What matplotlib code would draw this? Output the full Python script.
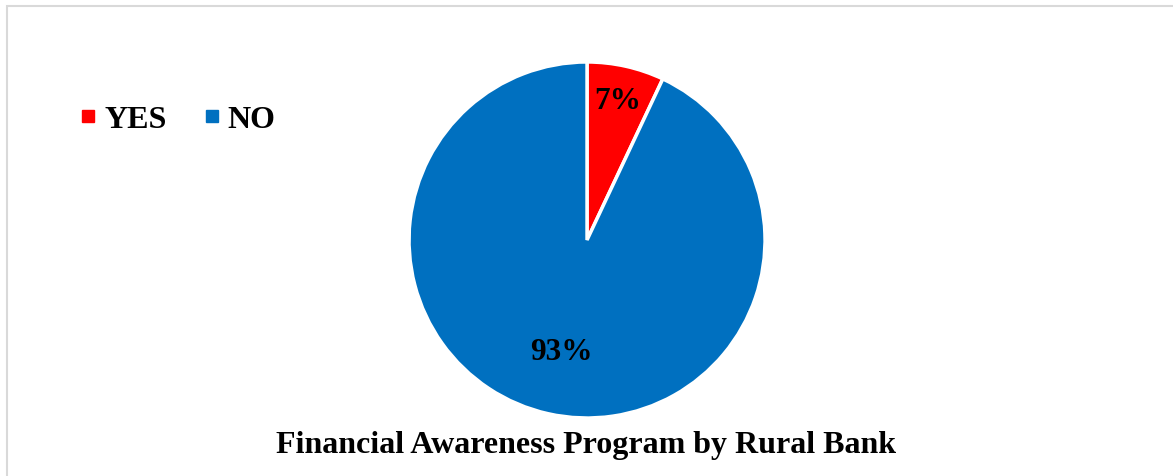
import numpy as np
import matplotlib
matplotlib.use("Agg")
import matplotlib.pyplot as plt
from matplotlib.lines import Line2D
from matplotlib.patches import Rectangle

labels = ["YES", "NO"]
shares = [7, 93]
colors = ["#FF0000", "#0070C0"]
pct_text = ["7%", "93%"]
title = "Financial Awareness Program by Rural Bank"

plt.rcParams['font.family'] = ['Liberation Serif', 'DejaVu Serif']
plt.rcParams['font.weight'] = 'bold'

fig = plt.figure(figsize=(11.73, 4.76), dpi=100)
ax = fig.add_axes([0.3487, 0.1218, 0.3035, 0.748])

wedges, _ = ax.pie(shares, colors=colors, startangle=90, counterclock=False,
                   wedgeprops=dict(edgecolor='white', linewidth=2.5))
ax.set_aspect('auto')
ax.set_xlim(-1, 1)
ax.set_ylim(-1, 1)

# label distances differ per slice
label_r = [0.8, 0.65]
for w, txt, r in zip(wedges, pct_text, label_r):
    ang = np.deg2rad((w.theta1 + w.theta2) / 2)
    ax.text(r * np.cos(ang), r * np.sin(ang), txt, ha='center', va='center',
            fontsize=22.5, fontweight='bold', color='black')

handles = [Line2D([], [], marker='s', linestyle='none', markersize=9,
                  markerfacecolor=c, markeredgecolor=c) for c in colors]
fig.legend(handles, labels, loc='center left', bbox_to_anchor=(0.040, 0.748),
           ncol=2, frameon=False, prop=dict(size=23, weight='bold'),
           handletextpad=0.1, columnspacing=1.0, handlelength=0.8)

fig.text(0.5, 0.064, title, ha='center', va='center', fontsize=23, fontweight='bold')

# light border around the chart area
fig.patches.append(Rectangle((7 / 1173, -0.1), 1.2, (476 - 6) / 476 + 0.1,
                             transform=fig.transFigure, fill=False,
                             edgecolor='#D9D9D9', linewidth=1.5))

fig.savefig("out.png", dpi=100)
